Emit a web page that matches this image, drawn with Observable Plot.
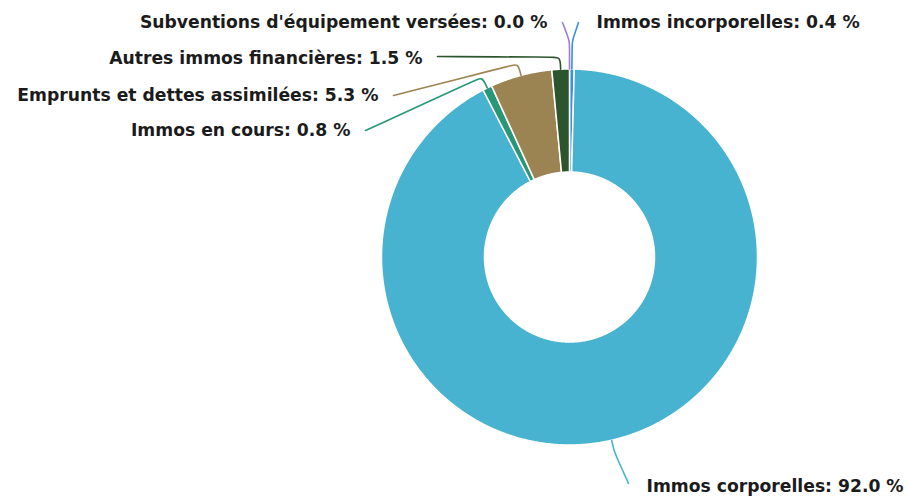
<!DOCTYPE html>
<html><head><meta charset="utf-8">
<script src="https://cdn.jsdelivr.net/npm/d3@7"></script>
<script src="https://cdn.jsdelivr.net/npm/@observablehq/plot@0.6"></script>
<style>body{margin:0;background:#fff}</style>
</head><body><div id="chart"></div>
<script>
// ---- data ----
const categories = ["Immos incorporelles", "Immos corporelles", "Immos en cours",
  "Emprunts et dettes assimilées", "Autres immos financières", "Subventions d'équipement versées"];
const values = [0.4, 92.0, 0.8, 5.3, 1.5, 0.0];
const colors = ["#3d8fe0", "#47b3d0", "#2a9678", "#9c8452", "#2d552d", "#9b7ce6"];

// ---- layout ----
const W = 908, H = 497, cx = 569, cy = 256.5, R = 188, r0 = 85;
const labelX = [596, 646, 350, 378, 422, 547];
const labelY = [22, 486, 130, 95, 58, 22];
const labelSide = ["right", "right", "left", "left", "left", "left"];
const elbowOut = [28, 12, 12, 12, 12, 28];
const endDy = [0, -3, 0, 0, -2, 0];

const total = d3.sum(values);
const pt = (a, rad) => ({x: cx + rad * Math.sin(a), y: cy - rad * Math.cos(a)});
let acc = 0;
const slices = categories.map((name, i) => {
  const a0 = acc / total * 2 * Math.PI;
  acc += values[i];
  const a1 = acc / total * 2 * Math.PI;
  return {name, value: values[i], color: colors[i], a0, a1, i};
});

const slicePts = [];
for (const s of slices) {
  if (s.value <= 0) continue;
  const n = Math.max(4, Math.ceil((s.a1 - s.a0) / 0.005));
  for (let k = 0; k <= n; k++) slicePts.push({...pt(s.a0 + (s.a1 - s.a0) * k / n, R), name: s.name, color: s.color});
  for (let k = n; k >= 0; k--) slicePts.push({...pt(s.a0 + (s.a1 - s.a0) * k / n, r0), name: s.name, color: s.color});
}

const connPts = [];
for (const s of slices) {
  const am = (s.a0 + s.a1) / 2;
  const anchor = pt(am, R);
  const elbow = pt(am, R + elbowOut[s.i]);
  const side = labelSide[s.i];
  const end = {x: labelX[s.i] + (side === "left" ? 15 : -18), y: labelY[s.i] + endDy[s.i]};
  const lerp = (p, q, t) => ({x: p.x + (q.x - p.x) * t, y: p.y + (q.y - p.y) * t});
  const dA = Math.hypot(elbow.x - anchor.x, elbow.y - anchor.y);
  const dE = Math.hypot(end.x - elbow.x, end.y - elbow.y);
  const rr = 8;
  const eA = lerp(elbow, anchor, Math.min(0.9, rr / dA));
  const eB = lerp(elbow, end, Math.min(0.5, rr / dE));
  for (const p of [anchor, eA, elbow, eB, end]) connPts.push({...p, name: s.name, color: s.color});
}

const labels = slices.map(s => ({
  text: `${s.name}: ${s.value.toFixed(1)} %`, x: labelX[s.i], y: labelY[s.i], side: labelSide[s.i]
}));

const font = {fontFamily: "DejaVu Sans", fontWeight: "bold", fontSize: 17.2, fill: "#1b1b1b"};

const chart = Plot.plot({
  width: W, height: H, margin: 0,
  x: {domain: [0, W], range: [0, W], axis: null},
  y: {domain: [0, H], range: [0, H], axis: null},
  color: {type: "identity"},
  marks: [
    Plot.line(slicePts, {x: "x", y: "y", z: "name", fill: "color", stroke: "white", strokeWidth: 1.5, curve: "linear-closed"}),
    Plot.line(connPts, {x: "x", y: "y", z: "name", stroke: "color", strokeWidth: 1.6, curve: "basis"}),
    Plot.text(labels.filter(d => d.side === "left"), {x: "x", y: "y", text: "text", textAnchor: "end", ...font}),
    Plot.text(labels.filter(d => d.side === "right"), {x: "x", y: "y", text: "text", textAnchor: "start", ...font})
  ]
});
document.getElementById("chart").appendChild(chart);
</script>
</body></html>
